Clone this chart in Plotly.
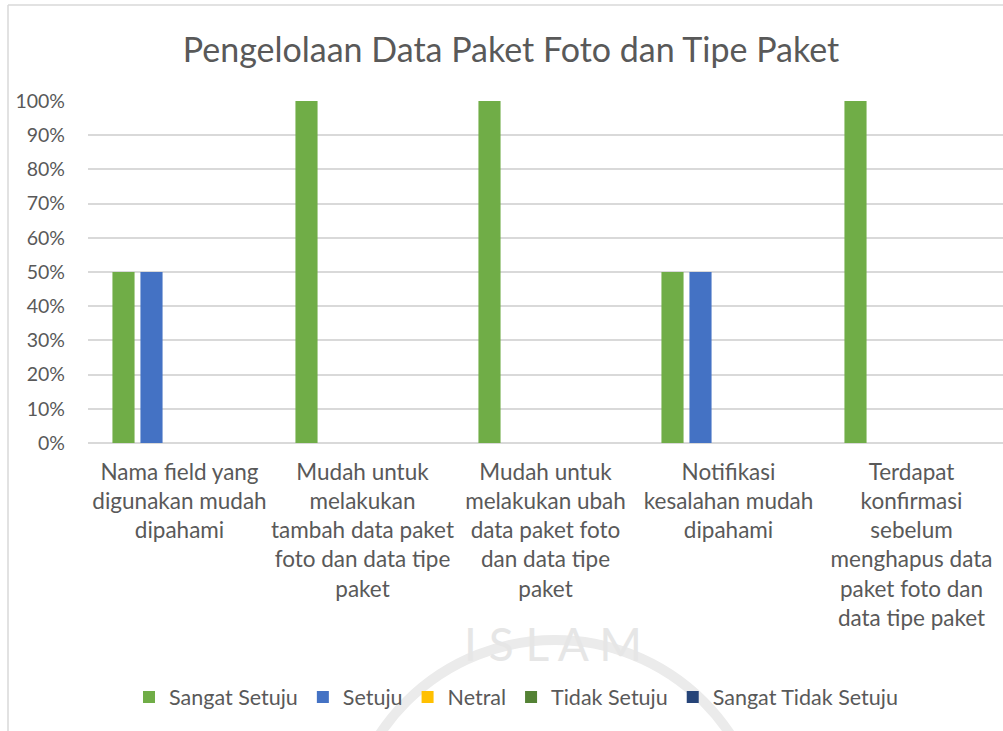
import plotly.graph_objects as go

# Survey results: share of respondents per answer for each statement
categories = [
    "Nama field yang<br>digunakan mudah<br>dipahami",
    "Mudah untuk<br>melakukan<br>tambah data paket<br>foto dan data tipe<br>paket",
    "Mudah untuk<br>melakukan ubah<br>data paket foto<br>dan data tipe<br>paket",
    "Notifikasi<br>kesalahan mudah<br>dipahami",
    "Terdapat<br>konfirmasi<br>sebelum<br>menghapus data<br>paket foto dan<br>data tipe paket",
]
sangat_setuju = [0.5, 1.0, 1.0, 0.5, 1.0]
setuju = [0.5, 0.0, 0.0, 0.5, 0.0]
netral = [0.0, 0.0, 0.0, 0.0, 0.0]
tidak_setuju = [0.0, 0.0, 0.0, 0.0, 0.0]
sangat_tidak_setuju = [0.0, 0.0, 0.0, 0.0, 0.0]

series = [
    ("Sangat Setuju", sangat_setuju, "#70AD47"),
    ("Setuju", setuju, "#4472C4"),
    ("Netral", netral, "#FFC000"),
    ("Tidak Setuju", tidak_setuju, "#548235"),
    ("Sangat Tidak Setuju", sangat_tidak_setuju, "#264478"),
]

W, H = 1003, 731
L, R, T, B = 88, 0, 101, 288
FONT = "Lato, Carlito, Calibri, sans-serif"
TXT = "#595959"

fig = go.Figure()
for name, vals, col in series:
    fig.add_trace(go.Bar(name=name, x=categories, y=vals, marker_color=col,
                         marker_line_width=0))

# pixel -> paper helpers for decorative shapes
pw, ph = W - L - R, H - T - B
def px(x):
    return (x - L) / pw
def py(y):
    return (H - B - y) / ph

shapes = [
    # outer chart frame (left and top edges)
    dict(type="line", xref="paper", yref="paper", x0=px(8), x1=px(8), y0=py(5), y1=py(740),
         line=dict(color="#d9d9d9", width=1.5), layer="below"),
    dict(type="line", xref="paper", yref="paper", x0=px(8), x1=px(1010), y0=py(5), y1=py(5),
         line=dict(color="#d9d9d9", width=1.5), layer="below"),
    # faint seal behind the legend
    dict(type="circle", xref="paper", yref="paper", x0=px(345), x1=px(765), y0=py(640), y1=py(1060),
         line=dict(color="#ebebeb", width=10), layer="below"),
]

fig.update_layout(
    width=W, height=H,
    margin=dict(l=L, r=R, t=T, b=B),
    paper_bgcolor="white", plot_bgcolor="white",
    barmode="group", bargap=0.235, bargroupgap=0.21,
    title=dict(text="Pengelolaan Data Paket Foto dan Tipe Paket", x=511 / W, xanchor="center",
               xref="container", y=1 - 50 / H, yanchor="middle", yref="container",
               font=dict(family=FONT, size=34, color=TXT)),
    font=dict(family=FONT, color=TXT),
    xaxis=dict(showgrid=False, showline=False, ticks="", tickangle=0,
               tickfont=dict(size=22.5, color=TXT), ticklabelstandoff=13, automargin=False),
    yaxis=dict(range=[0, 1], tickvals=[i / 10 for i in range(11)], tickformat=".0%",
               showgrid=True, gridcolor="#d9d9d9", gridwidth=1.5, zeroline=True,
               zerolinecolor="#d9d9d9", zerolinewidth=1.5, showline=False,
               tickfont=dict(size=19.5, color=TXT), ticklabelstandoff=22, automargin=False),
    legend=dict(orientation="h", xref="container", yref="container", x=516 / W, xanchor="center",
                y=1 - 697 / H, yanchor="middle", font=dict(size=21.5, color=TXT),
                itemwidth=30, traceorder="normal", bgcolor="rgba(0,0,0,0)"),
    shapes=shapes,
    annotations=[dict(text="I S L A M", xref="paper", yref="paper", x=px(553), y=py(673),
                      showarrow=False, font=dict(family=FONT, size=46, color="#e6e6e6"))],
)

fig.write_html("out.html")
